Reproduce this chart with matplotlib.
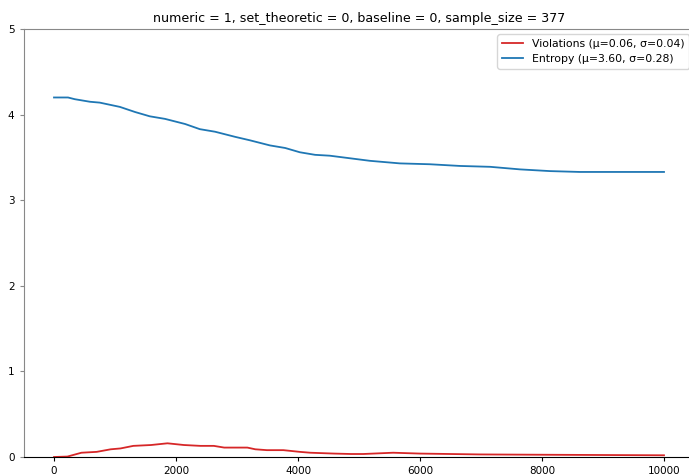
import numpy as np
import matplotlib.pyplot as plt

# sampled training curve, step index vs value
entropy_steps = [0, 230, 340, 590, 750, 1080, 1330, 1570, 1820, 2150, 2390, 2640,
                 2970, 3210, 3540, 3790, 4030, 4280, 4520, 4850, 5180, 5670, 6160,
                 6660, 7150, 7640, 8130, 8620, 10000]
entropy = [4.20, 4.20, 4.18, 4.15, 4.14, 4.09, 4.03, 3.98, 3.95, 3.89, 3.83, 3.80,
           3.74, 3.70, 3.64, 3.61, 3.56, 3.53, 3.52, 3.49, 3.46, 3.43, 3.42,
           3.40, 3.39, 3.36, 3.34, 3.33, 3.33]

violation_steps = [0, 220, 450, 700, 930, 1090, 1300, 1590, 1860, 2130, 2400, 2620,
                   2790, 2950, 3170, 3300, 3490, 3760, 4030, 4200, 4590, 4870, 5070,
                   5560, 6000, 6980, 7800, 10000]
violations = [0.0, 0.005, 0.05, 0.06, 0.09, 0.10, 0.13, 0.14, 0.16, 0.14, 0.13, 0.13,
              0.11, 0.11, 0.11, 0.09, 0.08, 0.08, 0.06, 0.05, 0.04, 0.035, 0.035,
              0.05, 0.04, 0.03, 0.027, 0.02]

violation_label = 'Violations (μ=0.06, σ=0.04)'
entropy_label = 'Entropy (μ=3.60, σ=0.28)'
title = 'numeric = 1, set_theoretic = 0, baseline = 0, sample_size = 377'

fig = plt.figure(figsize=(6.89, 4.75), dpi=100)
ax = fig.add_axes([23.5 / 689, 18 / 475, 671 / 689, 428 / 475])

ax.plot(violation_steps, violations, color='#d62728', lw=1.3, label=violation_label)
ax.plot(entropy_steps, entropy, color='#1f77b4', lw=1.3, label=entropy_label)

ax.set_ylim(0, 5)
ax.set_title(title, fontsize=9.1, pad=5)
ax.tick_params(labelsize=7.5, length=3)
ax.tick_params(axis='y', color='#888888')
for side in ('left', 'top', 'right'):
    ax.spines[side].set_color('#888888')
ax.legend(loc='upper right', fontsize=7.8, borderaxespad=0.5)

fig.savefig('out.png', dpi=100)
